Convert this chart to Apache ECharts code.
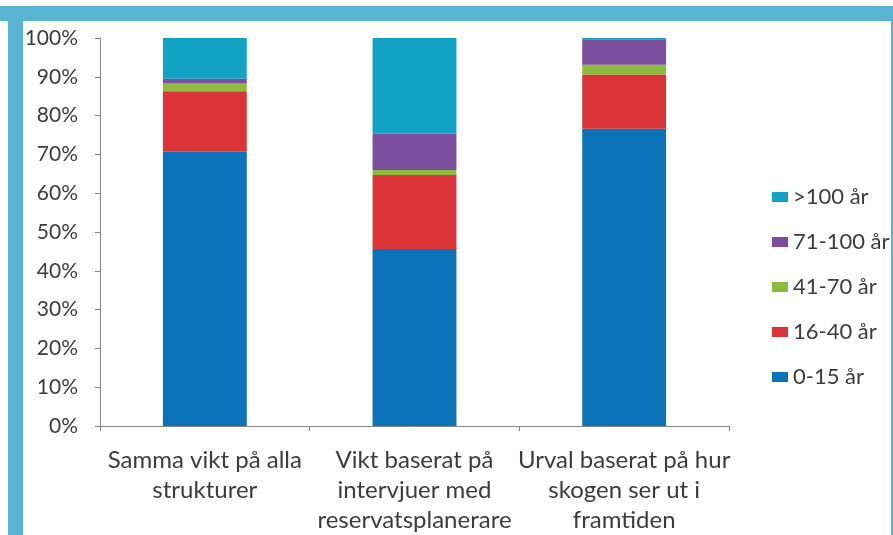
<!DOCTYPE html>
<html>
<head>
<meta charset="utf-8">
<script src="https://cdn.jsdelivr.net/npm/echarts@6/dist/echarts.min.js"></script>
<style>
  html, body { margin: 0; padding: 0; background: #fff; }
  #chart { width: 893px; height: 535px; }
</style>
</head>
<body>
<div id="chart"></div>
<script>
// kategorier (x-axel)
var categories = [
  'Samma vikt på alla\nstrukturer',
  'Vikt baserat på\nintervjuer med\nreservatsplanerare',
  'Urval baserat på hur\nskogen ser ut i\nframtiden'
];

// andel per åldersklass, i procent
var age0_15   = [70.7, 45.6, 76.6];
var age16_40  = [15.6, 19.1, 14.0];
var age41_70  = [2.0, 1.3, 2.5];
var age71_100 = [1.2, 9.3, 6.6];
var age100    = [10.5, 24.7, 0.3];

var seriesNames = ['0-15 år', '16-40 år', '41-70 år', '71-100 år', '>100 år'];
var colors = ['#0D73B8', '#DA3439', '#8CBB3E', '#7C4F9E', '#12A3C4'];

var frameColor = '#5BB3D2';
var textColor = '#3c3c3c';
var fontFamily = 'Lato, "Open Sans", sans-serif';

function stackSeries(name, data, color) {
  return {
    name: name,
    type: 'bar',
    stack: 'total',
    barCategoryGap: '60%',
    itemStyle: {color: color},
    data: data
  };
}

var option = {
  animation: false,
  textStyle: {fontFamily: fontFamily},
  graphic: [
    // ljusblå ram
    {type: 'rect', shape: {x: 0, y: 6, width: 893, height: 15}, style: {fill: frameColor}},
    {type: 'rect', shape: {x: 8, y: 6, width: 15, height: 529}, style: {fill: frameColor}},
    {type: 'rect', shape: {x: 891, y: 6, width: 2, height: 529}, style: {fill: frameColor}}
  ],
  grid: {left: 100, top: 38, right: 164, bottom: 104},
  legend: {
    orient: 'vertical',
    left: 767,
    top: 180,
    itemWidth: 16,
    itemHeight: 10,
    itemGap: 21,
    icon: 'rect',
    textStyle: {color: textColor, fontSize: 22, fontFamily: fontFamily, lineHeight: 24, padding: [0, 0, 0, 0]},
    data: ['>100 år', '71-100 år', '41-70 år', '16-40 år', '0-15 år']
  },
  xAxis: {
    type: 'category',
    data: categories,
    axisLine: {lineStyle: {color: '#868686'}},
    axisTick: {show: true, length: 5, lineStyle: {color: '#868686'}},
    axisLabel: {
      color: textColor,
      fontSize: 24,
      lineHeight: 30,
      margin: 19,
      interval: 0,
      fontFamily: fontFamily
    }
  },
  yAxis: {
    type: 'value',
    min: 0,
    max: 100,
    interval: 10,
    splitLine: {show: false},
    axisLine: {show: true, lineStyle: {color: '#868686'}},
    axisTick: {show: true, length: 5, lineStyle: {color: '#868686'}},
    axisLabel: {
      formatter: '{value}%',
      color: textColor,
      fontSize: 21,
      margin: 22,
      fontFamily: fontFamily
    }
  },
  series: [
    stackSeries(seriesNames[0], age0_15, colors[0]),
    stackSeries(seriesNames[1], age16_40, colors[1]),
    stackSeries(seriesNames[2], age41_70, colors[2]),
    stackSeries(seriesNames[3], age71_100, colors[3]),
    stackSeries(seriesNames[4], age100, colors[4])
  ]
};

var myChart = echarts.init(document.getElementById('chart'));
myChart.setOption(option);
</script>
</body>
</html>
